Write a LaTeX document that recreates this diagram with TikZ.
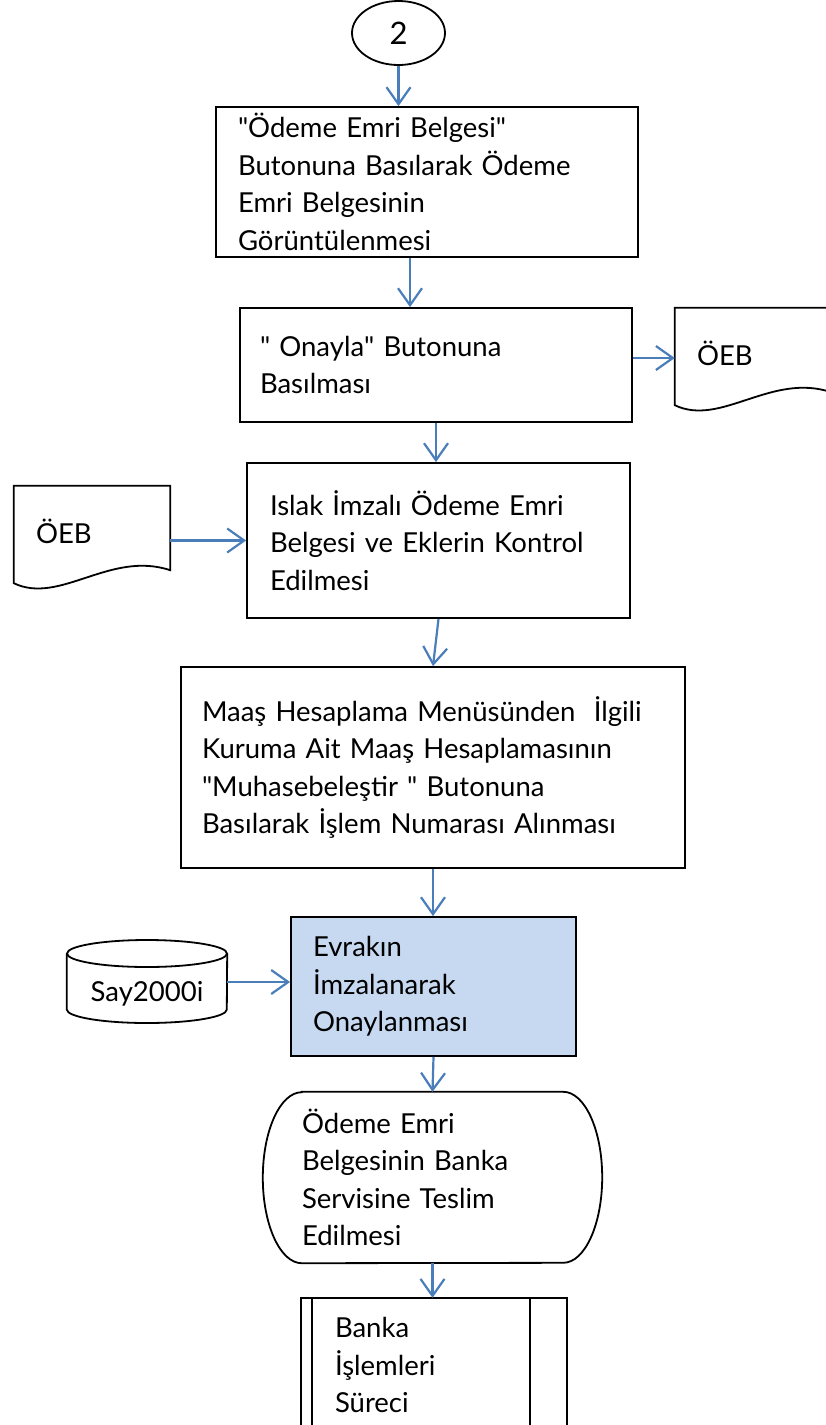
\documentclass[tikz,border=0pt]{standalone}
\usepackage{fontspec}
\setmainfont{Lato}
\usetikzlibrary{arrows.meta,shapes.geometric}
\definecolor{arrowblue}{HTML}{4A7EBB}
\definecolor{stepfill}{HTML}{C6D9F1}
\tikzset{font=\fontsize{27.5}{37.5}\selectfont}

\begin{document}
\begin{tikzpicture}[
            x=1pt, y=1pt,
            box/.style={draw, line width=1.8pt, align=left, inner ysep=0pt},
            plain/.style={line width=1.8pt},
            flow/.style={draw=arrowblue, line width=2.2pt, -{Straight Barb[length=17pt,width=24pt]}}
            ]
            \useasboundingbox (0,0) rectangle (826,-1425);
            \clip (0,0) rectangle (826,-1425);
            \node[ellipse, draw, line width=1.8pt, minimum width=93pt, minimum height=64pt, inner sep=0pt, font=\fontsize{31}{36}\selectfont] (start) at (398.5,-33) {2};
            \node[box, text width=378pt, inner xsep=22pt, minimum height=150pt] (b1) at (427,-182) {\textquotedbl Ödeme Emri Belgesi\textquotedbl\\Butonuna Basılarak Ödeme\\Emri Belgesinin\\Görüntülenmesi};
            \node[box, text width=352pt, inner xsep=20pt, minimum height=114pt] (b2) at (436,-365) {\textquotedbl{} Onayla\textquotedbl{} Butonuna\\Basılması};
            \node[box, text width=337pt, inner xsep=23pt, minimum height=155pt] (b3) at (438.5,-540.5) {Islak İmzalı Ödeme Emri\\Belgesi ve Eklerin Kontrol\\Edilmesi};
            \node[box, text width=462pt, inner xsep=21pt, minimum height=201pt] (b4) at (433,-767.5) {Maaş Hesaplama Menüsünden~ İlgili\\Kuruma Ait Maaş Hesaplamasının\\\textquotedbl Muhasebeleştir \textquotedbl{} Butonuna\\Basılarak İşlem Numarası Alınması};
            \node[box, fill=stepfill, text width=241pt, inner xsep=22pt, minimum height=139pt] (b5) at (433.5,-986.5) {Evrakın\\İmzalanarak\\Onaylanması};
            \node[align=left, text width=261pt, inner xsep=39pt, inner ysep=0pt, minimum height=171pt] (term) at (432.5,-1177.5) {Ödeme Emri\\Belgesinin Banka\\Servisine Teslim\\Edilmesi};
            \node[align=left, text width=198pt, inner xsep=34pt, inner ysep=0pt, minimum height=134pt] (pp) at (434,-1365) {Banka\\İşlemleri\\Süreci};
            \node[align=left, text width=112pt, inner xsep=22pt, inner ysep=0pt, minimum height=97pt] (oebR) at (753,-353) {ÖEB};
            \node[align=left, text width=112pt, inner xsep=22pt, inner ysep=0pt, minimum height=97pt] (oebL) at (92,-531) {ÖEB};
            \node[minimum width=160pt, inner sep=0pt] (db) at (147,-993.5) {Say2000i};

            \draw[plain] ([xshift=39pt]term.north west) -- ([xshift=-39pt]term.north east)
                arc[start angle=90, end angle=-90, x radius=39pt, y radius=85.5pt]
                -- ([xshift=39pt]term.south west)
                arc[start angle=270, end angle=90, x radius=39pt, y radius=85.5pt] -- cycle;
            \draw[plain] (pp.north west) rectangle (pp.south east);
            \draw[plain] ([xshift=11pt]pp.north west) -- ([xshift=11pt]pp.south west);
            \draw[plain] ([xshift=-37pt]pp.north east) -- ([xshift=-37pt]pp.south east);
            \foreach \doc in {oebR,oebL}
                \draw[plain] ([yshift=-3.5pt]\doc.north west) -- ([yshift=-3.5pt]\doc.north east) -- ([yshift=9.5pt]\doc.south east)
                    .. controls ([xshift=-60pt,yshift=29.5pt]\doc.south east) and ([xshift=46pt,yshift=-25.5pt]\doc.south west) .. ([yshift=-3.5pt]\doc.south west) -- cycle;
            \draw[plain] ([yshift=40pt]db.center) ellipse [x radius=80pt, y radius=13.5pt];
            \draw[plain] ([yshift=40pt]db.west) -- ([yshift=-16pt]db.west)
                arc[start angle=180, end angle=360, x radius=80pt, y radius=13.5pt] -- ([yshift=40pt]db.east);

            \draw[flow] (start) -- (start |- b1.north);
            \draw[flow] ([xshift=-17pt]b1.south) -- ([xshift=-17pt]b1.south |- b2.north);
            \draw[flow] (b2.south) -- (b2.south |- b3.north);
            \draw[flow] (b3.south) -- (b4.north);
            \draw[flow] (b4.south) -- (b4.south |- b5.north);
            \draw[flow] (b5.south) -- (term.north);
            \draw[flow] (term.south) -- (term.south |- pp.north);
            \draw[flow] ([yshift=-5pt]oebR.west -| b2.east) -- ([yshift=-5pt]oebR.west);
            \draw[flow] (oebL.east |- b3.west) -- (b3.west);
            \draw[flow] ([yshift=11.5pt]db.east) -- ([yshift=11.5pt]db.east -| b5.west);
        \end{tikzpicture}
\end{document}
